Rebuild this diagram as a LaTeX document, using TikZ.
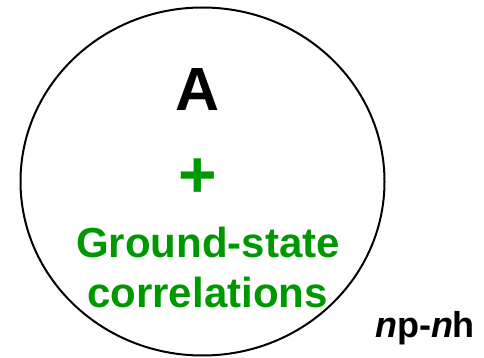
\documentclass[tikz,border=0pt]{standalone}
\usepackage{fontspec}
\setmainfont{Liberation Sans}
\usetikzlibrary{shapes.geometric}
\definecolor{grn}{RGB}{0,152,0}
\begin{document}
\begin{tikzpicture}[x=1pt,y=-1pt,
  lbl/.style={inner sep=0pt,anchor=base,font=\bfseries}]
\useasboundingbox (0,0) rectangle (484,358);
\node[ellipse,draw,line width=2pt,minimum width=364pt,minimum height=348pt,inner sep=0pt] (circ) at (202.5,181.5) {};
\node[lbl,font=\bfseries\fontsize{61}{61}\selectfont] (a) at (198,111) {A};
\node[lbl,text=grn,font=\bfseries\fontsize{66}{66}\selectfont,anchor=center] (plus) at (198,178) {+};
\node[lbl,text=grn,font=\bfseries\fontsize{42}{42}\selectfont] (gs) at (208,257) {Ground-state};
\node[lbl,text=grn,font=\bfseries\fontsize{42}{42}\selectfont] (corr) at (207.5,307) {correlations};
\node[lbl,font=\bfseries\fontsize{36}{36}\selectfont] (np) at (425,337) {\textit{n}p-\textit{n}h};
\end{tikzpicture}
\end{document}
